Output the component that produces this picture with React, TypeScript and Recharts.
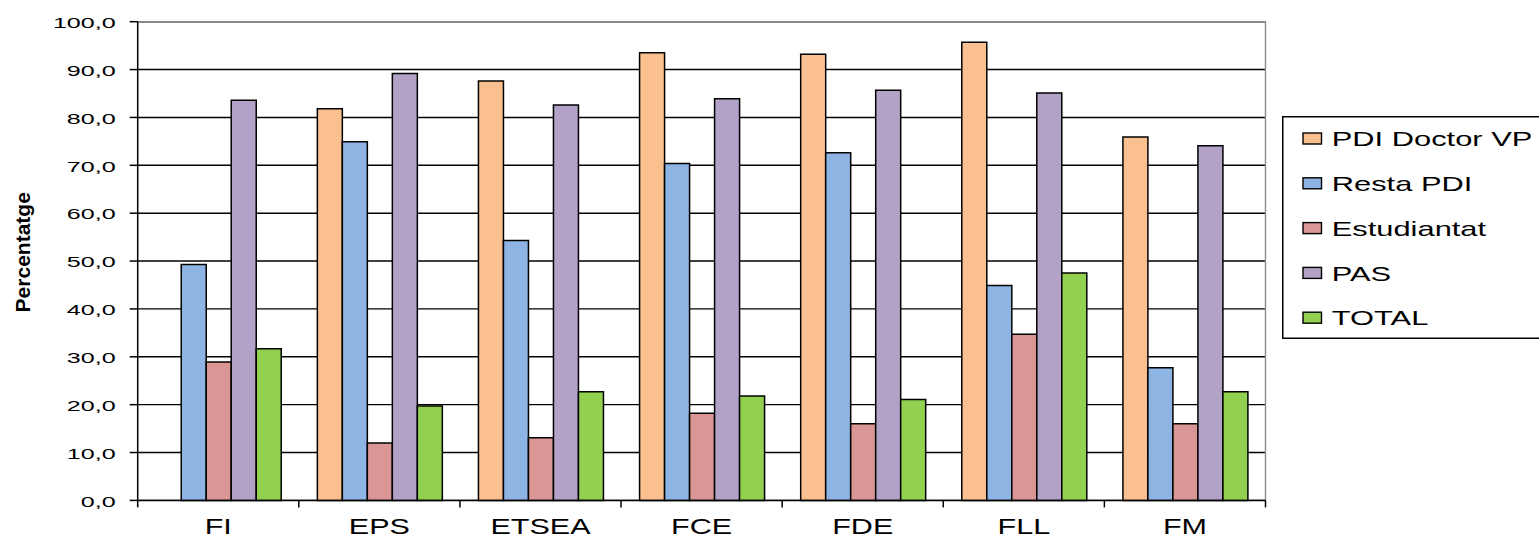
import { Bar, BarChart, CartesianGrid, XAxis, YAxis } from "recharts";

const categories = ["FI", "EPS", "ETSEA", "FCE", "FDE", "FLL", "FM"];
const pdiDoctorVP = [null, 81.8, 87.6, 93.5, 93.2, 95.7, 75.9];
const restaPDI = [49.3, 74.9, 54.3, 70.4, 72.6, 44.9, 27.7];
const estudiantat = [28.9, 12.0, 13.1, 18.2, 16.0, 34.7, 16.0];
const pas = [83.6, 89.2, 82.6, 83.9, 85.7, 85.1, 74.1];
const total = [31.7, 19.7, 22.7, 21.8, 21.1, 47.5, 22.7];
const yTicks = [0, 10, 20, 30, 40, 50, 60, 70, 80, 90, 100];

const series = [
  { key: "pdi", name: "PDI Doctor VP", values: pdiDoctorVP, color: "#FAC090" },
  { key: "resta", name: "Resta PDI", values: restaPDI, color: "#8EB4E3" },
  { key: "est", name: "Estudiantat", values: estudiantat, color: "#D99694" },
  { key: "pas", name: "PAS", values: pas, color: "#B3A2C7" },
  { key: "total", name: "TOTAL", values: total, color: "#92D050" },
];

const data = categories.map((name, i) => {
  const row: Record<string, string | number | null> = { name };
  series.forEach((s) => (row[s.key] = s.values[i]));
  return row;
});

const W = 1539;
const H = 539;
const PLOT_LEFT = 137.7;
const PLOT_RIGHT = 1265.5;
const PLOT_TOP = 21.7;
const PLOT_BOTTOM = 500.4;
const FONT = "'Liberation Sans', Arial, sans-serif";
const BAND = (PLOT_RIGHT - PLOT_LEFT) / categories.length;

function XTick(props: any) {
  const { x, payload, index } = props;
  const i = index ?? payload?.index ?? 0;
  const left = x - BAND / 2;
  return (
    <g>
      <line x1={left} x2={left} y1={PLOT_BOTTOM} y2={PLOT_BOTTOM + 7} stroke="#000" strokeWidth={1.5} />
      {i === categories.length - 1 && (
        <line x1={x + BAND / 2} x2={x + BAND / 2} y1={PLOT_BOTTOM} y2={PLOT_BOTTOM + 7} stroke="#000" strokeWidth={1.5} />
      )}
      <text
        transform={`translate(${x},${PLOT_BOTTOM + 34}) scale(1.42,1)`}
        textAnchor="middle"
        fontFamily={FONT}
        fontSize={21.5}
        fill="#000"
      >
        {payload.value}
      </text>
    </g>
  );
}

function YTick(props: any) {
  const { x, y, payload } = props;
  return (
    <text
      transform={`translate(${x},${y + 6.3}) scale(1.62,1)`}
      textAnchor="end"
      fontFamily={FONT}
      fontSize={15.5}
      fill="#000"
    >
      {Number(payload.value).toFixed(1).replace(".", ",")}
    </text>
  );
}

function LegendBox() {
  return (
    <svg
      width={W - 1282}
      height={224}
      style={{ position: "absolute", left: 1282, top: 115.5 }}
    >
      <rect x={0.75} y={0.75} width={300} height={221.5} fill="#fff" stroke="#000" strokeWidth={1.5} />
      {series.map((s, i) => {
        const cy = 22.5 + i * 44.8;
        return (
          <g key={s.key}>
            <rect x={21} y={cy - 5.5} width={18.5} height={11} fill={s.color} stroke="#000" strokeWidth={1.4} />
            <text
              transform={`translate(49.7,${cy + 7.6}) scale(1.47,1)`}
              fontFamily={FONT}
              fontSize={21}
              fill="#000"
            >
              {s.name}
            </text>
          </g>
        );
      })}
    </svg>
  );
}

export default function App() {
  return (
    <div style={{ position: "fixed", left: 0, top: 0, width: W, height: H, overflow: "hidden", background: "#fff" }}>
      <BarChart
        width={W}
        height={H}
        data={data}
        margin={{ top: PLOT_TOP, right: W - PLOT_RIGHT, bottom: 0, left: 0 }}
        barCategoryGap="11.5%"
        barGap={0}
      >
        <CartesianGrid vertical={false} stroke="#000" strokeWidth={1.4} />
        <CartesianGrid
          stroke="#8c8c8c"
          strokeWidth={1.4}
          horizontalCoordinatesGenerator={({ offset }: any) => [offset.top]}
          verticalCoordinatesGenerator={({ offset }: any) => [offset.left + offset.width]}
        />
        <XAxis
          dataKey="name"
          height={H - PLOT_BOTTOM}
          interval={0}
          tickLine={false}
          axisLine={{ stroke: "#000", strokeWidth: 1.5 }}
          tick={<XTick />}
        />
        <YAxis
          width={PLOT_LEFT}
          domain={[0, 100]}
          ticks={yTicks}
          interval={0}
          tickSize={8}
          tickMargin={14}
          tickLine={{ stroke: "#000", strokeWidth: 1.5 }}
          axisLine={{ stroke: "#000", strokeWidth: 1.5 }}
          tick={<YTick />}
          label={{
            content: () => (
              <text
                transform="translate(29.5,252.3) rotate(-90)"
                textAnchor="middle"
                fontFamily={FONT}
                fontSize={21}
                fontWeight="bold"
                fill="#000"
              >
                Percentatge
              </text>
            ),
          }}
        />
        {series.map((s) => (
          <Bar
            key={s.key}
            dataKey={s.key}
            name={s.name}
            fill={s.color}
            stroke="#000"
            strokeWidth={1.5}
            isAnimationActive={false}
          />
        ))}
      </BarChart>
      <LegendBox />
    </div>
  );
}
